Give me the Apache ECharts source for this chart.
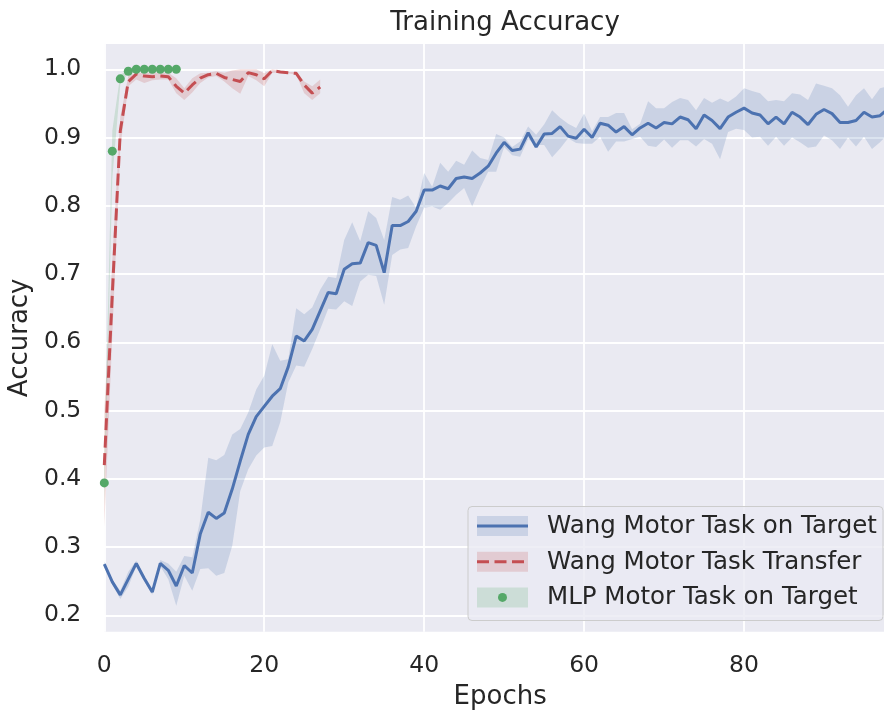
<!DOCTYPE html>
<html>
<head>
<meta charset="utf-8">
<script src="https://cdn.jsdelivr.net/npm/echarts@6/dist/echarts.min.js"></script>
<style>
  html, body { margin: 0; padding: 0; background: #ffffff; }
  #chart { width: 884px; height: 713px; }
</style>
</head>
<body>
<div id="chart"></div>
<script>
// Training accuracy per epoch: mean curve with a min/max spread band for each model.
const wangTargetEpochs = Array.from({ length: 99 }, (_, i) => i);
const wangTargetMean = [
  0.275, 0.249, 0.230, 0.253, 0.276, 0.254, 0.234, 0.276, 0.266, 0.243,
  0.273, 0.262, 0.319, 0.351, 0.342, 0.350, 0.385, 0.426, 0.465, 0.491,
  0.506, 0.521, 0.532, 0.564, 0.609, 0.602, 0.619, 0.646, 0.673, 0.671,
  0.707, 0.715, 0.716, 0.746, 0.742, 0.702, 0.771, 0.771, 0.777, 0.792,
  0.823, 0.823, 0.829, 0.825, 0.840, 0.842, 0.840, 0.848, 0.858, 0.877,
  0.893, 0.881, 0.883, 0.907, 0.886, 0.905, 0.906, 0.916, 0.902, 0.899,
  0.912, 0.900, 0.921, 0.918, 0.908, 0.916, 0.904, 0.914, 0.921, 0.914,
  0.922, 0.920, 0.930, 0.926, 0.913, 0.933, 0.925, 0.913, 0.930, 0.937,
  0.943, 0.936, 0.933, 0.920, 0.930, 0.920, 0.937, 0.930, 0.919, 0.934,
  0.941, 0.935, 0.922, 0.922, 0.925, 0.937, 0.930, 0.932, 0.942
];
const wangTargetUpper = [
  0.279, 0.252, 0.236, 0.264, 0.280, 0.258, 0.238, 0.281, 0.276, 0.264,
  0.287, 0.285, 0.340, 0.431, 0.427, 0.435, 0.465, 0.473, 0.497, 0.531,
  0.551, 0.597, 0.573, 0.575, 0.650, 0.641, 0.651, 0.677, 0.696, 0.694,
  0.750, 0.776, 0.748, 0.792, 0.782, 0.750, 0.813, 0.809, 0.815, 0.797,
  0.848, 0.828, 0.863, 0.850, 0.866, 0.860, 0.881, 0.870, 0.867, 0.905,
  0.900, 0.886, 0.894, 0.916, 0.904, 0.919, 0.940, 0.929, 0.920, 0.914,
  0.935, 0.909, 0.930, 0.930, 0.936, 0.936, 0.912, 0.920, 0.953, 0.943,
  0.943, 0.952, 0.958, 0.955, 0.940, 0.958, 0.951, 0.957, 0.952, 0.960,
  0.972, 0.968, 0.965, 0.953, 0.955, 0.953, 0.965, 0.963, 0.955, 0.979,
  0.976, 0.972, 0.962, 0.945, 0.962, 0.972, 0.956, 0.972, 0.975
];
const wangTargetLower = [
  0.271, 0.245, 0.224, 0.242, 0.272, 0.250, 0.230, 0.272, 0.253, 0.214,
  0.258, 0.236, 0.268, 0.269, 0.258, 0.262, 0.302, 0.382, 0.414, 0.434,
  0.446, 0.448, 0.483, 0.541, 0.566, 0.564, 0.590, 0.619, 0.649, 0.648,
  0.660, 0.653, 0.689, 0.699, 0.697, 0.655, 0.728, 0.736, 0.738, 0.770,
  0.797, 0.799, 0.794, 0.804, 0.816, 0.826, 0.799, 0.826, 0.850, 0.850,
  0.886, 0.874, 0.872, 0.898, 0.889, 0.889, 0.871, 0.884, 0.899, 0.892,
  0.891, 0.891, 0.901, 0.879, 0.894, 0.894, 0.898, 0.901, 0.888, 0.886,
  0.897, 0.885, 0.896, 0.896, 0.887, 0.898, 0.891, 0.868, 0.908, 0.913,
  0.911, 0.900, 0.901, 0.888, 0.901, 0.888, 0.900, 0.893, 0.885, 0.887,
  0.903, 0.896, 0.883, 0.900, 0.887, 0.901, 0.883, 0.893, 0.905
];

const wangTransferEpochs = Array.from({ length: 28 }, (_, i) => i);
const wangTransferMean = [
  0.420, 0.670, 0.910, 0.982, 0.993, 0.990, 0.989, 0.990, 0.989, 0.975,
  0.965, 0.977, 0.987, 0.992, 0.994, 0.988, 0.985, 0.982, 0.995, 0.992,
  0.986, 0.998, 0.996, 0.995, 0.994, 0.977, 0.965, 0.974
];
const wangTransferUpper = [
  0.500, 0.720, 0.930, 0.990, 0.995, 0.994, 0.995, 0.995, 0.995, 0.987,
  0.972, 0.987, 0.994, 0.995, 0.997, 0.995, 0.998, 1.000, 1.000, 1.000,
  0.994, 1.000, 0.998, 0.996, 0.996, 0.982, 0.975, 0.985
];
const wangTransferLower = [
  0.330, 0.610, 0.885, 0.975, 0.985, 0.980, 0.984, 0.985, 0.985, 0.965,
  0.955, 0.966, 0.980, 0.988, 0.990, 0.982, 0.972, 0.964, 0.990, 0.984,
  0.975, 0.995, 0.995, 0.994, 0.992, 0.965, 0.955, 0.965
];

const mlpTargetEpochs = Array.from({ length: 10 }, (_, i) => i);
const mlpTargetMean  = [0.394, 0.880, 0.986, 0.997, 1.000, 1.000, 1.000, 1.000, 1.000, 1.000];
const mlpTargetUpper = [0.430, 0.910, 0.992, 0.999, 1.000, 1.000, 1.000, 1.000, 1.000, 1.000];
const mlpTargetLower = [0.360, 0.840, 0.978, 0.995, 1.000, 1.000, 1.000, 1.000, 1.000, 1.000];

const seriesNames = [
  'Wang Motor Task on Target',
  'Wang Motor Task Transfer',
  'MLP Motor Task on Target'
];
const xTickStep = 20;

const BLUE = '#4C72B0', RED = '#C44E52', GREEN = '#55A868';
const TEXT = '#262626';
const FONT = '"DejaVu Sans", sans-serif';

function pairs(xs, ys) { return xs.map((x, i) => [x, ys[i]]); }

// Polygon spanning the upper edge forward and the lower edge backward.
function bandSeries(xs, upper, lower, color) {
  return {
    type: 'custom',
    silent: true,
    clip: true,
    z: 1,
    data: [[xs[0], lower[0]]],
    renderItem: function (params, api) {
      const pts = [];
      for (let i = 0; i < xs.length; i++) pts.push(api.coord([xs[i], upper[i]]));
      for (let i = xs.length - 1; i >= 0; i--) pts.push(api.coord([xs[i], lower[i]]));
      return {
        type: 'polygon',
        shape: { points: pts },
        style: { fill: color, opacity: 0.2 }
      };
    }
  };
}

const chart = echarts.init(document.getElementById('chart'), null, { renderer: 'canvas' });

// Hand-built legend: shaded patch with the line style drawn across it.
const legendRowY = [526, 561.7, 597.4];
const legendGraphics = [{
  type: 'rect',
  shape: { x: 468, y: 506.5, width: 415, height: 114, r: 4 },
  style: { fill: 'rgba(234,234,242,0.8)', stroke: '#cccccc', lineWidth: 1 },
  z: 100
}];
const legendColors = [BLUE, RED, GREEN];
legendRowY.forEach((cy, i) => {
  legendGraphics.push({
    type: 'rect',
    shape: { x: 477, y: cy - 10, width: 51, height: 20 },
    style: { fill: legendColors[i], opacity: 0.2 },
    z: 101
  });
  if (i === 2) {
    legendGraphics.push({
      type: 'circle',
      shape: { cx: 502.5, cy: cy, r: 4.5 },
      style: { fill: GREEN },
      z: 102
    });
  } else {
    legendGraphics.push({
      type: 'line',
      shape: { x1: 477, y1: cy, x2: 528, y2: cy },
      style: {
        stroke: legendColors[i],
        lineWidth: 3,
        lineDash: i === 1 ? [12, 5.5] : null
      },
      z: 102
    });
  }
  legendGraphics.push({
    type: 'text',
    x: 547,
    y: cy + 0.5,
    style: {
      text: seriesNames[i],
      font: '24.5px ' + FONT,
      fill: TEXT,
      textVerticalAlign: 'middle',
      verticalAlign: 'middle'
    },
    z: 102
  });
});

const option = {
  animation: false,
  backgroundColor: '#ffffff',
  title: {
    text: 'Training Accuracy',
    left: 500,
    top: 5,
    textAlign: 'center',
    textStyle: { fontFamily: FONT, fontSize: 26, fontWeight: 'normal', color: TEXT }
  },
  grid: {
    left: 104.3,
    right: -12,
    top: 44,
    bottom: 81.3,
    show: true,
    backgroundColor: '#EAEAF2',
    borderWidth: 0,
    containLabel: false,
    outerBoundsMode: 'none'
  },
  xAxis: {
    type: 'value',
    min: 0,
    max: 99,
    interval: xTickStep,
    name: 'Epochs',
    nameLocation: 'middle',
    nameGap: 53,
    nameTextStyle: { fontFamily: FONT, fontSize: 26, color: TEXT },
    axisLine: { show: false },
    axisTick: { show: false },
    axisLabel: {
      fontFamily: FONT, fontSize: 23.5, color: TEXT, margin: 22,
      showMaxLabel: false,
      formatter: v => (v % xTickStep === 0 ? String(v) : '')
    },
    splitLine: { show: true, showMaxLine: false, lineStyle: { color: '#ffffff', width: 1.8 } }
  },
  yAxis: {
    type: 'value',
    min: 0.176,
    max: 1.037,
    splitNumber: 8,
    minInterval: 0.1,
    maxInterval: 0.1,
    name: 'Accuracy',
    nameLocation: 'middle',
    nameGap: 70,
    nameTextStyle: { fontFamily: FONT, fontSize: 26, color: TEXT },
    axisLine: { show: false },
    axisTick: { show: false },
    axisLabel: {
      fontFamily: FONT, fontSize: 23.5, color: TEXT, margin: 23,
      showMinLabel: false, showMaxLabel: false,
      formatter: v => v.toFixed(1)
    },
    splitLine: {
      show: true, showMinLine: false, showMaxLine: false,
      lineStyle: { color: '#ffffff', width: 1.8 }
    }
  },
  graphic: legendGraphics,
  series: [
    bandSeries(wangTargetEpochs, wangTargetUpper, wangTargetLower, BLUE),
    {
      name: seriesNames[0],
      type: 'line',
      data: pairs(wangTargetEpochs, wangTargetMean),
      showSymbol: false,
      z: 3,
      lineStyle: { color: BLUE, width: 3 },
      itemStyle: { color: BLUE }
    },
    bandSeries(wangTransferEpochs, wangTransferUpper, wangTransferLower, RED),
    {
      name: seriesNames[1],
      type: 'line',
      data: pairs(wangTransferEpochs, wangTransferMean),
      showSymbol: false,
      z: 3,
      lineStyle: { color: RED, width: 3, type: [12, 5.5] },
      itemStyle: { color: RED }
    },
    bandSeries(mlpTargetEpochs, mlpTargetUpper, mlpTargetLower, GREEN),
    {
      name: seriesNames[2],
      type: 'scatter',
      data: pairs(mlpTargetEpochs, mlpTargetMean),
      symbol: 'circle',
      symbolSize: 9,
      z: 4,
      itemStyle: { color: GREEN, opacity: 1 }
    }
  ]
};

chart.setOption(option);
</script>
</body>
</html>
